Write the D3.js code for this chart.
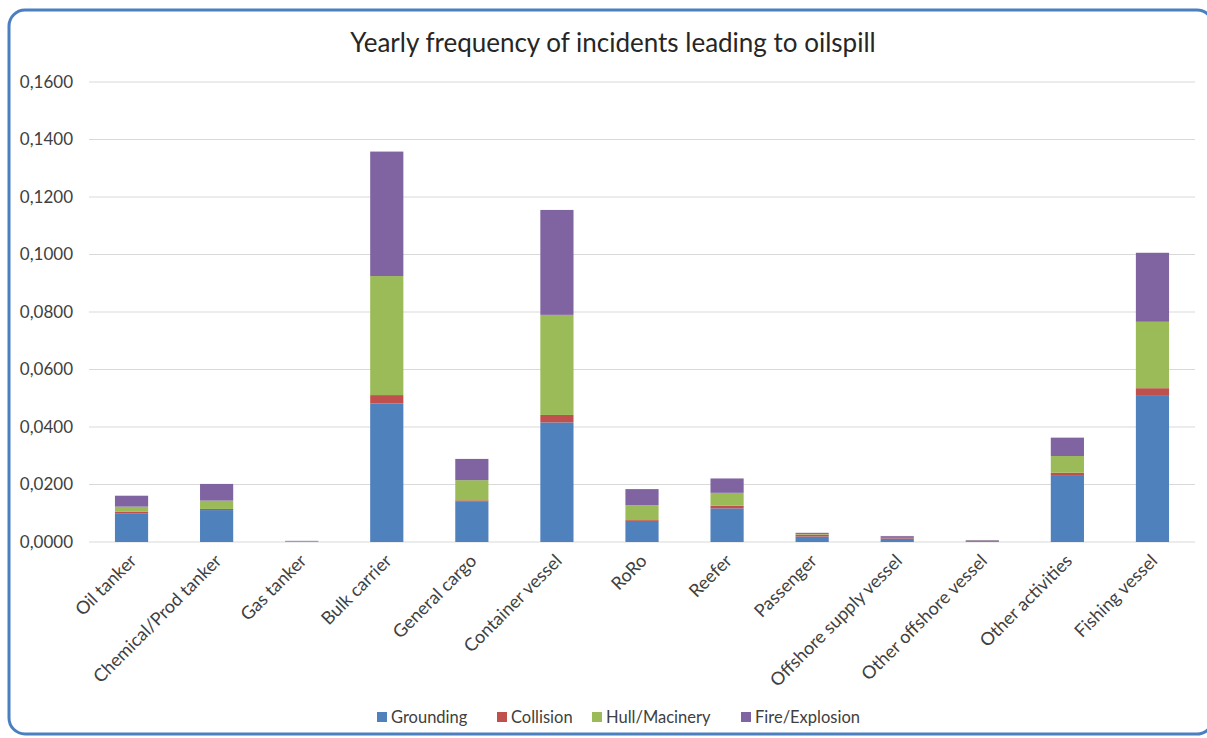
<!DOCTYPE html>
<html><head><meta charset="utf-8">
<script src="https://cdn.jsdelivr.net/npm/d3@7"></script>
<style>
html,body{margin:0;padding:0;background:#fff;}
svg{display:block;}
text{font-family:Lato,"Open Sans",sans-serif;}
</style></head>
<body>
<svg id="chart" width="1207" height="738"></svg>
<script>
const categories = ["Oil tanker","Chemical/Prod tanker","Gas tanker","Bulk carrier","General cargo","Container vessel","RoRo","Reefer","Passenger","Offshore supply vessel","Other offshore vessel","Other activities","Fishing vessel"];
const seriesNames = ["Grounding","Collision","Hull/Macinery","Fire/Explosion"];
const grounding = [0.0100,0.0111,0.0001,0.0482,0.0140,0.0416,0.0073,0.0117,0.0019,0.0012,0.0003,0.0230,0.0511];
const collision = [0.0006,0.0004,0.0000,0.0029,0.0005,0.0026,0.0003,0.0009,0.0007,0.0005,0.0001,0.0011,0.0024];
const hull      = [0.0017,0.0029,0.0001,0.0414,0.0070,0.0348,0.0052,0.0045,0.0002,0.0001,0.0001,0.0058,0.0231];
const fire      = [0.0038,0.0058,0.0002,0.0433,0.0074,0.0365,0.0056,0.0050,0.0004,0.0003,0.0002,0.0064,0.0240];
const yTicks = [0,0.02,0.04,0.06,0.08,0.10,0.12,0.14,0.16];
const colors = ["#4f81bd","#c0504d","#9bbb59","#8064a2"];
const title = "Yearly frequency of incidents leading to oilspill";

const svg = d3.select("#chart");
// frame
svg.append("rect").attr("x",9).attr("y",10).attr("width",1204).attr("height",724)
  .attr("rx",16).attr("fill","#fff").attr("stroke","#4a7fc0").attr("stroke-width",3);

const table = categories.map((c,i)=>({cat:c, Grounding:grounding[i], Collision:collision[i], "Hull/Macinery":hull[i], "Fire/Explosion":fire[i]}));
const stacked = d3.stack().keys(seriesNames)(table);

const x = d3.scaleBand().domain(categories).range([89,1195]).paddingInner(0.61).paddingOuter(0.305);
const y = d3.scaleLinear().domain([0,0.16]).range([542,82]);
const fmt = v => d3.format(".4f")(v).replace(".",",");

// gridlines
svg.append("g").selectAll("line").data(yTicks).join("line")
  .attr("x1",89).attr("x2",1195).attr("y1",d=>y(d)).attr("y2",d=>y(d))
  .attr("stroke","#d9d9d9").attr("stroke-width",1.2);

// y labels
svg.append("g").selectAll("text").data(yTicks).join("text")
  .attr("x",73).attr("y",d=>y(d)).attr("dy","0.35em").attr("text-anchor","end")
  .attr("font-size",17).attr("fill","#404040").text(fmt);

// bars
svg.append("g").selectAll("g").data(stacked).join("g")
  .attr("fill",(d,i)=>colors[i])
  .selectAll("rect").data(d=>d).join("rect")
  .attr("x",d=>x(d.data.cat)).attr("width",x.bandwidth())
  .attr("y",d=>y(d[1])).attr("height",d=>Math.max(0,y(d[0])-y(d[1])));

// x labels
svg.append("g").selectAll("text").data(categories).join("text")
  .attr("text-anchor","end").attr("font-size",18).attr("fill","#404040")
  .attr("transform",d=>`translate(${x(d)+x.bandwidth()/2+6},562) rotate(-45)`)
  .text(d=>d);

// title
svg.append("text").attr("x",613).attr("y",52).attr("text-anchor","middle")
  .attr("font-size",26).attr("fill","#262626").text(title);

// legend
const legX = [377,497,592,741];
const leg = svg.append("g");
seriesNames.forEach((s,i)=>{
  leg.append("rect").attr("x",legX[i]).attr("y",712).attr("width",10).attr("height",10).attr("fill",colors[i]);
  leg.append("text").attr("x",legX[i]+14).attr("y",717).attr("dy","0.35em")
    .attr("font-size",16.5).attr("fill","#404040").text(s);
});
</script>
</body></html>
